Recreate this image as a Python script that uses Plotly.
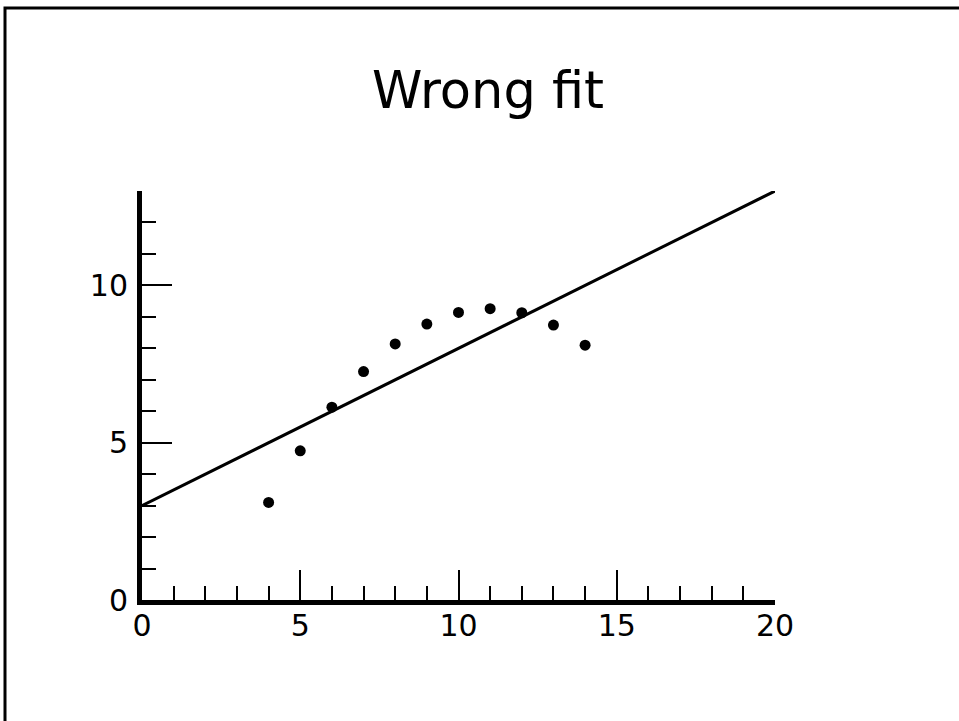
import plotly.graph_objects as go

# Data (Anscombe quartet, set II)
x_vals = [4, 5, 6, 7, 8, 9, 10, 11, 12, 13, 14]
y_vals = [3.10, 4.74, 6.13, 7.26, 8.14, 8.77, 9.14, 9.26, 9.13, 8.74, 8.10]
fit_x = [0, 20]
fit_intercept = 3.0
fit_slope = 0.5
fit_y = [fit_intercept + fit_slope * v for v in fit_x]
x_ticks = [0, 5, 10, 15, 20]
y_ticks = [0, 5, 10]

W, H = 959, 721
ML, MR, MT, MB = 142, 184, 191, 121
pw, ph = W - ML - MR, H - MT - MB

def px_to_paper_x(px):
    return (px - ML) / pw

def px_to_paper_y(py):
    return (H - MB - py) / ph

fig = go.Figure()
fig.add_trace(go.Scatter(x=fit_x, y=fit_y, mode="lines",
                         line=dict(color="black", width=3), hoverinfo="skip"))
fig.add_trace(go.Scatter(x=x_vals, y=y_vals, mode="markers",
                         marker=dict(color="black", size=11)))

axis_common = dict(showgrid=False, zeroline=False, showline=True, linecolor="black",
                   linewidth=5, ticks="inside", ticklen=30, tickwidth=2, tickcolor="black",
                   tickfont=dict(family="DejaVu Sans", size=30, color="black"),
                   minor=dict(dtick=1, ticks="inside", ticklen=14, tickwidth=2,
                              tickcolor="black", showgrid=False))

fig.update_xaxes(range=[0, 20], tickvals=x_ticks, ticktext=[str(v) for v in x_ticks],
                 ticklabelstandoff=-5, **axis_common)
fig.update_yaxes(range=[0, 13], tickvals=y_ticks, ticktext=[str(v) for v in y_ticks],
                 ticklabelstandoff=3, **axis_common)

# page frame (top and left edges)
fig.add_shape(type="path", xref="paper", yref="paper",
              path="M {l},{b} L {l},{t} L {r},{t}".format(
                  l=px_to_paper_x(5), b=px_to_paper_y(730),
                  t=px_to_paper_y(8), r=px_to_paper_x(970)),
              line=dict(color="black", width=3))

fig.update_layout(
    width=W, height=H,
    margin=dict(l=ML, r=MR, t=MT, b=MB),
    paper_bgcolor="white", plot_bgcolor="white",
    showlegend=False,
    title=dict(text="Wrong fit", x=488 / W, xanchor="center", xref="container",
               y=1 - 90 / H, yanchor="middle", yref="container",
               font=dict(family="DejaVu Sans", size=51, color="black")),
)

fig.write_html("out.html")
